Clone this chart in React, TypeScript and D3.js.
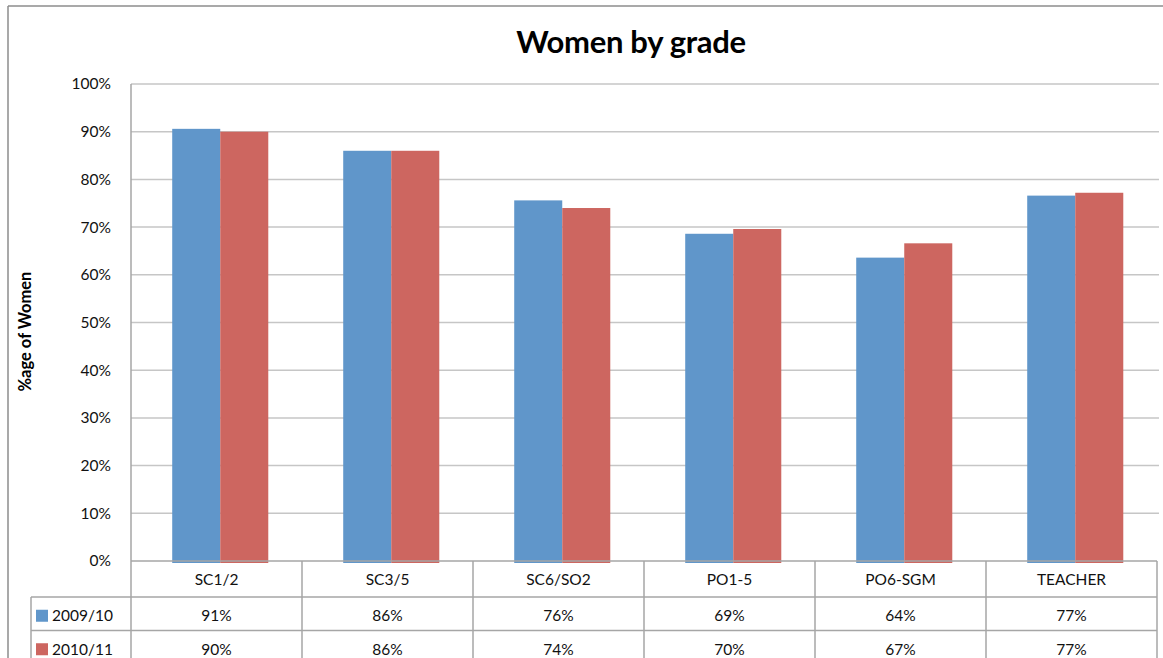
import React from "react";
import * as d3 from "d3";

// Share of women in each grade, by year
const categories = ["SC1/2", "SC3/5", "SC6/SO2", "PO1-5", "PO6-SGM", "TEACHER"];
const seriesNames = ["2009/10", "2010/11"];
const values2009 = [0.906, 0.86, 0.756, 0.686, 0.636, 0.766];
const values2010 = [0.9, 0.86, 0.74, 0.696, 0.666, 0.772];
const yTicks = [0, 0.1, 0.2, 0.3, 0.4, 0.5, 0.6, 0.7, 0.8, 0.9, 1.0];
const seriesColors = ["#6096CA", "#CD6660"];

const W = 1163;
const H = 658;
const FONT = "Lato, 'Open Sans', sans-serif";

export default function App() {
  const plot = { left: 131, right: 1157, top: 84, bottom: 561 };
  const rowH = 33.5;
  const tableLeft = 31;

  const y = d3.scaleLinear().domain([0, 1]).range([plot.bottom, plot.top]);
  const x0 = d3.scaleBand<string>().domain(categories).range([plot.left, plot.right]).padding(0);
  const x1 = d3
    .scaleBand<string>()
    .domain(seriesNames)
    .range([0, x0.bandwidth()])
    .paddingInner(0)
    .paddingOuter(0.78)
    .align(0.55);

  const series = [values2009, values2010];
  const fmt = d3.format(".0%");

  const row0Top = plot.bottom + 36;
  const row1Top = row0Top + rowH;

  const gridColor = "#C6C6C6";
  const lineColor = "#A6A6A6";

  return (
    <svg
      width={W}
      height={H}
      style={{ position: "absolute", left: 0, top: 0, background: "#fff" }}
      fontFamily={FONT}
    >
      {/* chart frame */}
      <line x1={8} x2={W} y1={6} y2={6} stroke="#8C8C8C" strokeWidth={1.5} />
      <line x1={8} x2={8} y1={6} y2={H} stroke="#8C8C8C" strokeWidth={1.5} />

      {/* title */}
      <text x={631} y={53} textAnchor="middle" fontSize={31} fontWeight={700} fill="#000" letterSpacing={-0.3}>
        Women by grade
      </text>

      {/* gridlines and y tick labels */}
      {yTicks.map((t) => (
        <g key={t}>
          {t > 0 && (
            <line
              x1={plot.left}
              x2={plot.right + 2}
              y1={y(t)}
              y2={y(t)}
              stroke={gridColor}
              strokeWidth={1.5}
            />
          )}
          <text x={111} y={y(t)} dy="0.35em" textAnchor="end" fontSize={15.5} fill="#111">
            {fmt(t)}
          </text>
        </g>
      ))}

      {/* y-axis title */}
      <text
        transform={`translate(31, ${(plot.top + plot.bottom) / 2 + 9}) rotate(-90)`}
        textAnchor="middle"
        fontSize={16.5}
        fontWeight={700}
        fill="#000"
      >
        %age of Women
      </text>

      {/* bars */}
      {categories.map((c, i) => (
        <g key={c} transform={`translate(${x0(c)},0)`}>
          {series.map((vals, s) => (
            <rect
              key={s}
              x={x1(seriesNames[s])}
              y={y(vals[i])}
              width={x1.bandwidth()}
              height={y(0) - y(vals[i]) + 2}
              fill={seriesColors[s]}
            />
          ))}
        </g>
      ))}

      {/* y axis */}
      <line x1={plot.left} x2={plot.left} y1={plot.top} y2={plot.bottom} stroke={lineColor} strokeWidth={1.5} />

      {/* data table */}
      <line x1={plot.left} x2={plot.right} y1={plot.bottom} y2={plot.bottom} stroke={lineColor} strokeWidth={1.5} />
      <line x1={tableLeft} x2={plot.right} y1={row0Top} y2={row0Top} stroke={lineColor} strokeWidth={1.5} />
      <line x1={tableLeft} x2={plot.right} y1={row1Top} y2={row1Top} stroke={lineColor} strokeWidth={1.5} />
      <line x1={tableLeft} x2={tableLeft} y1={row0Top} y2={H} stroke={lineColor} strokeWidth={1.5} />
      {categories.map((c) => (
        <line
          key={c}
          x1={x0(c)}
          x2={x0(c)}
          y1={plot.bottom}
          y2={H}
          stroke={lineColor}
          strokeWidth={1.5}
        />
      ))}
      <line x1={plot.right} x2={plot.right} y1={plot.bottom} y2={H} stroke={lineColor} strokeWidth={1.5} />

      {categories.map((c) => (
        <text
          key={c}
          x={(x0(c) as number) + x0.bandwidth() / 2}
          y={(plot.bottom + row0Top) / 2 + 1}
          dy="0.35em"
          textAnchor="middle"
          fontSize={15.5}
          fill="#111"
        >
          {c}
        </text>
      ))}

      {series.map((vals, s) => {
        const top = s === 0 ? row0Top : row1Top;
        const cy = top + rowH / 2 + 2;
        return (
          <g key={s}>
            <rect x={36} y={cy - 6} width={12} height={12} fill={seriesColors[s]} />
            <text x={52} y={cy} dy="0.35em" fontSize={15.5} fill="#111">
              {seriesNames[s]}
            </text>
            {categories.map((c, i) => (
              <text
                key={c}
                x={(x0(c) as number) + x0.bandwidth() / 2}
                y={cy}
                dy="0.35em"
                textAnchor="middle"
                fontSize={15.5}
                fill="#111"
              >
                {fmt(vals[i])}
              </text>
            ))}
          </g>
        );
      })}
    </svg>
  );
}
